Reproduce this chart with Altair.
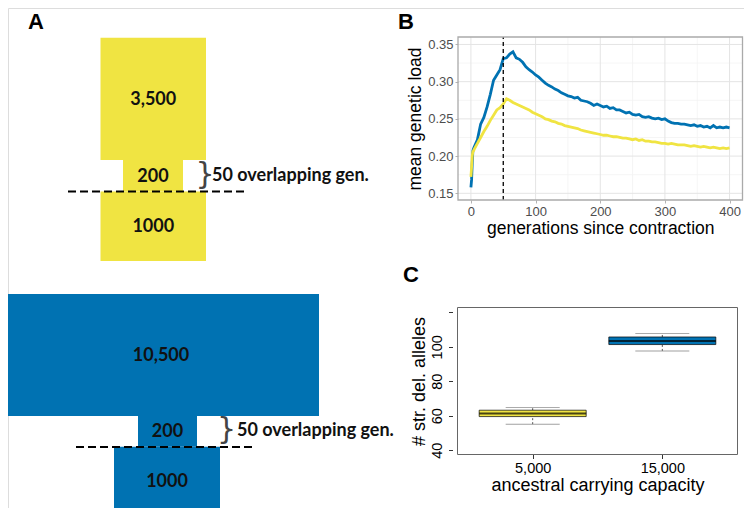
import altair as alt
import pandas as pd

W, H = 736, 500          # whole canvas (page minus 8px margin)
OX, OY = 8, 8            # page margin

# ---------------- Panel A : schematic of population sizes ----------------
blk_group = ["K5000", "K5000", "K5000", "K15000", "K15000", "K15000"]
blk_label = ["3,500", "200", "1000", "10,500", "200", "1000"]
blk_left = [100.5, 123, 100.5, 3, 138, 114]
blk_right = [206, 183, 206, 319, 197, 220]
blk_top = [37.7, 160, 191.5, 294, 416, 446.7]
blk_bottom = [160, 191.5, 261, 416, 446.7, 515]

contr_y = [191.5, 447]          # contraction (dashed line)
contr_x0 = [68, 76]
contr_x1 = [245, 253]
overlap_text = ["50 overlapping gen.", "50 overlapping gen."]
brace_x = [205, 226.5]
brace_y = [175.5, 431]
overlap_x = [212, 237]

panel_letters = ["A", "B", "C"]
letter_x = [28, 398, 403]
letter_y = [12, 12, 265]

groups = ["K5000", "K15000"]
group_colors = ["#F0E442", "#0072B2"]

# ---------------- Panel B : mean genetic load ----------------
gens = [0, 1, 2, 3, 4, 5] + list(range(10, 401, 5))
load_blue = [0.158, 0.168, 0.190, 0.207, 0.210, 0.212,
             0.222, 0.243, 0.252, 0.266, 0.283, 0.302, 0.309, 0.316, 0.331, 0.332,
             0.337, 0.340, 0.332, 0.330, 0.326, 0.320, 0.316, 0.313, 0.309, 0.306,
             0.302, 0.298, 0.295, 0.293, 0.290, 0.288, 0.285, 0.283, 0.281, 0.280,
             0.278, 0.279, 0.275, 0.274, 0.273, 0.271, 0.268, 0.270, 0.268, 0.266,
             0.267, 0.264, 0.265, 0.262, 0.262, 0.260, 0.258, 0.259, 0.256, 0.255,
             0.256, 0.253, 0.252, 0.253, 0.251, 0.250, 0.251, 0.249, 0.250, 0.247,
             0.245, 0.244, 0.244, 0.243, 0.243, 0.242, 0.241, 0.242, 0.240, 0.241,
             0.239, 0.240, 0.238, 0.241, 0.238, 0.239, 0.238, 0.239, 0.238]
load_yellow = [0.172, 0.185, 0.200, 0.206, 0.207, 0.209,
               0.217, 0.225, 0.233, 0.240, 0.248, 0.255, 0.262, 0.265, 0.270, 0.277,
               0.275, 0.272, 0.270, 0.268, 0.266, 0.264, 0.262, 0.259, 0.257, 0.255,
               0.253, 0.250, 0.249, 0.247, 0.246, 0.244, 0.243, 0.241, 0.240, 0.239,
               0.238, 0.237, 0.235, 0.234, 0.233, 0.232, 0.231, 0.230, 0.229, 0.228,
               0.228, 0.227, 0.226, 0.226, 0.225, 0.224, 0.224, 0.223, 0.222, 0.223,
               0.221, 0.222, 0.220, 0.220, 0.219, 0.219, 0.218, 0.217, 0.217, 0.216,
               0.217, 0.216, 0.215, 0.215, 0.215, 0.214, 0.213, 0.214, 0.213, 0.212,
               0.213, 0.212, 0.211, 0.212, 0.211, 0.210, 0.211, 0.210, 0.211]
b_xdomain = [-20, 420]
b_ydomain = [0.141, 0.36]
b_xticks = [0, 100, 200, 300, 400]
b_xminor = [50, 150, 250, 350]
b_yticks = [0.15, 0.20, 0.25, 0.30, 0.35]
b_yminor = [0.175, 0.225, 0.275, 0.325]
contraction_end = [50]

# ---------------- Panel C : boxplots ----------------
c_pos = [1, 2]
c_labels = ["5,000", "15,000"]
c_group = ["K5000", "K15000"]
c_lo = [55.1, 97.6]
c_q1 = [59.5, 101.3]
c_med = [61.3, 103.4]
c_q3 = [63.2, 105.7]
c_hi = [64.8, 107.7]
c_xdomain = [0.42, 2.58]
c_ydomain = [37.5, 122.8]
c_yticks = [40, 60, 80, 100, 120]

# ======================= build =======================
sa_x = alt.Scale(domain=[OX, OX + W], range=[0, W], nice=False, zero=False)
sa_y = alt.Scale(domain=[OY, OY + H], range=[0, H], nice=False, zero=False)
gcol = alt.Scale(domain=groups, range=group_colors)

blocks = pd.DataFrame(dict(group=blk_group, label=blk_label, left=blk_left,
                           right=blk_right, top=blk_top, bottom=blk_bottom))
blocks["cx"] = (blocks.left + blocks.right) / 2
blocks["cy"] = (blocks.top + blocks.bottom) / 2

rects = alt.Chart(blocks).mark_rect().encode(
    x=alt.X("left:Q", scale=sa_x, axis=None), x2="right:Q",
    y=alt.Y("top:Q", scale=sa_y, axis=None), y2="bottom:Q",
    color=alt.Color("group:N", scale=gcol, legend=None))
blk_text = alt.Chart(blocks).mark_text(font="Lato", fontWeight="bold", fontSize=18,
                                       color="#111111", dy=1).encode(
    x=alt.X("cx:Q", scale=sa_x, axis=None),
    y=alt.Y("cy:Q", scale=sa_y, axis=None), text="label:N")

contr = pd.DataFrame(dict(y=contr_y, x0=contr_x0, x1=contr_x1, txt=overlap_text,
                          bx=brace_x, by=brace_y, tx=overlap_x))
contr_lines = alt.Chart(contr).mark_rule(color="black", strokeWidth=2, strokeDash=[8, 4]).encode(
    x=alt.X("x0:Q", scale=sa_x, axis=None), x2="x1:Q",
    y=alt.Y("y:Q", scale=sa_y, axis=None))
braces = alt.Chart(contr).mark_text(text="}", font="DejaVu Sans", fontSize=30,
                                    color="#444444", baseline="middle", dy=-1).encode(
    x=alt.X("bx:Q", scale=sa_x, axis=None), y=alt.Y("by:Q", scale=sa_y, axis=None))
ov_text = alt.Chart(contr).mark_text(font="Lato", fontWeight="bold", fontSize=18,
                                     color="#111111", align="left", baseline="middle").encode(
    x=alt.X("tx:Q", scale=sa_x, axis=None), y=alt.Y("by:Q", scale=sa_y, axis=None),
    text="txt:N")

letters = pd.DataFrame(dict(t=panel_letters, x=letter_x, y=letter_y))
letter_text = alt.Chart(letters).mark_text(font="Liberation Sans", fontWeight="bold",
                                           fontSize=22, align="left", baseline="top",
                                           color="black").encode(
    x=alt.X("x:Q", scale=sa_x, axis=None), y=alt.Y("y:Q", scale=sa_y, axis=None),
    text="t:N")

panelA = alt.layer(rects, blk_text, contr_lines, braces, ov_text, letter_text)

# ---- Panel B
sb_x = alt.Scale(domain=b_xdomain, range=[458 - OX, 742.5 - OX], nice=False, zero=False)
sb_y = alt.Scale(domain=b_ydomain, range=[200 - OY, 37 - OY], nice=False, zero=False)

axis_common = dict(labelFont="Liberation Sans", titleFont="Liberation Sans",
                   titleFontWeight="normal", titleColor="black", grid=False,
                   domain=False, labelFlush=False)
axBx = alt.Axis(orient="bottom", offset=(200 - OY) - H, values=b_xticks, format="d",
                tickColor="#b3b3b3", tickSize=3, labelFontSize=13, labelColor="#4d4d4d",
                labelPadding=2, title="generations since contraction", titleFontSize=17.5,
                titlePadding=1, **axis_common)
axBy = alt.Axis(orient="left", offset=-(458 - OX), values=b_yticks, format=".2f",
                tickColor="#b3b3b3", tickSize=3, labelFontSize=13, labelColor="#4d4d4d",
                labelPadding=2, title="mean genetic load", titleFontSize=17.5,
                titlePadding=3, **axis_common)

gx = pd.DataFrame(dict(v=b_xminor + b_xticks,
                       kind=["minor"] * len(b_xminor) + ["major"] * len(b_xticks)))
gx["lo"], gx["hi"] = b_ydomain
gy = pd.DataFrame(dict(v=b_yminor + b_yticks,
                       kind=["minor"] * len(b_yminor) + ["major"] * len(b_yticks)))
gy["lo"], gy["hi"] = b_xdomain

def grid_layers(kind, color, width):
    a = alt.Chart(gx[gx.kind == kind]).mark_rule(color=color, strokeWidth=width).encode(
        x=alt.X("v:Q", scale=sb_x, axis=axBx),
        y=alt.Y("lo:Q", scale=sb_y, axis=axBy), y2="hi:Q")
    b = alt.Chart(gy[gy.kind == kind]).mark_rule(color=color, strokeWidth=width).encode(
        y=alt.Y("v:Q", scale=sb_y, axis=axBy),
        x=alt.X("lo:Q", scale=sb_x, axis=axBx), x2="hi:Q")
    return [a, b]

lines_df = pd.DataFrame(dict(gen=gens * 2, load=load_blue + load_yellow,
                             group=["K15000"] * len(gens) + ["K5000"] * len(gens)))

line_blue = alt.Chart(lines_df[lines_df.group == "K15000"]).mark_line(
    strokeWidth=2.8, color="#0072B2").encode(
    x=alt.X("gen:Q", scale=sb_x, axis=axBx),
    y=alt.Y("load:Q", scale=sb_y, axis=axBy))
line_yellow = alt.Chart(lines_df[lines_df.group == "K5000"]).mark_line(
    strokeWidth=2.8, color="#F0E442").encode(
    x=alt.X("gen:Q", scale=sb_x, axis=axBx),
    y=alt.Y("load:Q", scale=sb_y, axis=axBy))

vl = pd.DataFrame(dict(g=contraction_end, lo=[b_ydomain[0]], hi=[b_ydomain[1]]))
vline = alt.Chart(vl).mark_rule(color="black", strokeWidth=1.3, strokeDash=[4, 3]).encode(
    x=alt.X("g:Q", scale=sb_x, axis=axBx),
    y=alt.Y("lo:Q", scale=sb_y, axis=axBy), y2="hi:Q")

bbox = pd.DataFrame(dict(x0=[b_xdomain[0]], x1=[b_xdomain[1]],
                         y0=[b_ydomain[0]], y1=[b_ydomain[1]]))
b_border = alt.Chart(bbox).mark_rect(fillOpacity=0, stroke="#aaaaaa", strokeWidth=1.3).encode(
    x=alt.X("x0:Q", scale=sb_x, axis=axBx), x2="x1:Q",
    y=alt.Y("y0:Q", scale=sb_y, axis=axBy), y2="y1:Q")

panelB = alt.layer(*grid_layers("minor", "#f2f2f2", 0.8),
                   *grid_layers("major", "#e4e4e4", 1.0),
                   line_blue, line_yellow, vline, b_border)

# ---- Panel C
sc_x = alt.Scale(domain=c_xdomain, range=[452.5 - OX, 742.5 - OX], nice=False, zero=False)
sc_y = alt.Scale(domain=c_ydomain, range=[454.5 - OY, 307.5 - OY], nice=False, zero=False)

box = pd.DataFrame(dict(pos=c_pos, label=c_labels, group=c_group, lo=c_lo, q1=c_q1,
                        med=c_med, q3=c_q3, hi=c_hi))
label_js = "[" + ",".join("'%s'" % s for s in [""] + c_labels) + "]"

axCx = alt.Axis(orient="bottom", offset=(454.5 - OY) - H, values=c_pos,
                labelExpr=label_js + "[datum.value]", tickColor="#333333", tickSize=4,
                labelFontSize=14.5, labelColor="black", labelPadding=3,
                title="ancestral carrying capacity", titleFontSize=18, titlePadding=1,
                **axis_common)
axCy = alt.Axis(orient="left", offset=-(452.5 - OX), values=c_yticks,
                labelExpr="datum.value >= 120 ? '' : datum.label", labelAngle=270,
                labelAlign="center", labelBaseline="bottom", tickColor="#333333", tickSize=4,
                labelFontSize=14.5, labelColor="black", labelPadding=4,
                title="# str. del. alleles", titleFontSize=18, titlePadding=1, **axis_common)

whisk_lo = alt.Chart(box).mark_rule(color="#555555", strokeWidth=1, strokeDash=[2, 2]).encode(
    x=alt.X("pos:Q", scale=sc_x, axis=axCx),
    y=alt.Y("lo:Q", scale=sc_y, axis=axCy), y2="q1:Q")
whisk_hi = alt.Chart(box).mark_rule(color="#555555", strokeWidth=1, strokeDash=[2, 2]).encode(
    x=alt.X("pos:Q", scale=sc_x, axis=axCx),
    y=alt.Y("q3:Q", scale=sc_y, axis=axCy), y2="hi:Q")
cap_lo = alt.Chart(box).mark_tick(orient="horizontal", size=54, thickness=1,
                                  color="#777777").encode(
    x=alt.X("pos:Q", scale=sc_x, axis=axCx), y=alt.Y("lo:Q", scale=sc_y, axis=axCy))
cap_hi = alt.Chart(box).mark_tick(orient="horizontal", size=54, thickness=1,
                                  color="#888888").encode(
    x=alt.X("pos:Q", scale=sc_x, axis=axCx), y=alt.Y("hi:Q", scale=sc_y, axis=axCy))
bars = alt.Chart(box).mark_bar(size=107, stroke="black", strokeWidth=0.7).encode(
    x=alt.X("pos:Q", scale=sc_x, axis=axCx),
    y=alt.Y("q1:Q", scale=sc_y, axis=axCy),
    y2="q3:Q",
    color=alt.Color("group:N", scale=gcol, legend=None))
medians = alt.Chart(box).mark_tick(orient="horizontal", size=107, thickness=2,
                                   color="black").encode(
    x=alt.X("pos:Q", scale=sc_x, axis=axCx), y=alt.Y("med:Q", scale=sc_y, axis=axCy))

cbox = pd.DataFrame(dict(x0=[c_xdomain[0]], x1=[c_xdomain[1]],
                         y0=[c_ydomain[0]], y1=[c_ydomain[1]]))
c_border = alt.Chart(cbox).mark_rect(fillOpacity=0, stroke="#666666", strokeWidth=1).encode(
    x=alt.X("x0:Q", scale=sc_x, axis=axCx), x2="x1:Q",
    y=alt.Y("y0:Q", scale=sc_y, axis=axCy), y2="y1:Q")

panelC = alt.layer(whisk_lo, whisk_hi, cap_lo, cap_hi, bars, medians, c_border)

chart = alt.layer(panelA, panelB, panelC).resolve_scale(
    x="independent", y="independent", color="independent"
).properties(
    width=W, height=H, padding=0, autosize=alt.AutoSizeParams(type="none")
).configure_view(stroke=None).configure(font="Liberation Sans")

chart.save("out.html", embed_options={"renderer": "svg", "actions": False})
